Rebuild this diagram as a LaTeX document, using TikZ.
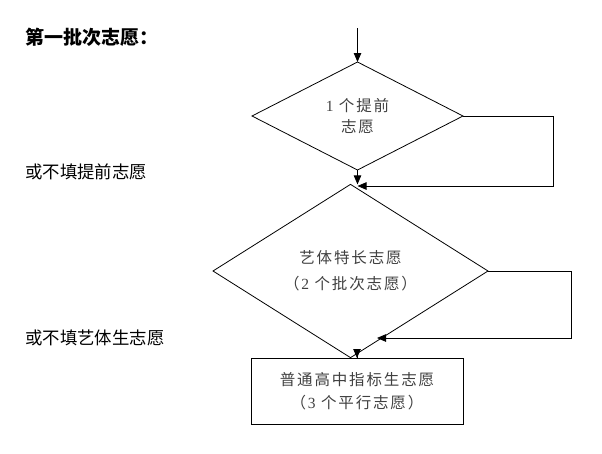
\documentclass[tikz,border=0pt]{standalone}
\usepackage{fontspec}
\setmainfont{Liberation Serif}
\newfontfamily\cjk{Noto Sans CJK SC}
\newfontfamily\cjkd[LetterSpace=12]{Noto Sans CJK SC}
\usetikzlibrary{shapes.geometric,arrows.meta}
\begin{document}
\begin{tikzpicture}[x=1pt,y=-1pt,
  line/.style={line width=0.8pt,draw=black},
  arr/.style={line, -{Triangle[length=9pt,width=7.5pt]}},
  dia/.style={diamond,line,inner sep=0pt,outer sep=0pt,align=center,text=black!75},
  boxnode/.style={rectangle,line,inner sep=0pt,outer sep=0pt,align=center,text=black!75},
  side/.style={anchor=west,inner sep=0pt,font=\cjk\fontsize{17.4}{20}\selectfont}
]
\useasboundingbox (0,0) rectangle (602,453);

\node[side,font=\cjk\bfseries\fontsize{19}{22}\selectfont] (title) at (25,37) {第一批次志愿：};
\node[side] (note1) at (25,172) {或不填提前志愿};
\node[side] (note2) at (25,338) {或不填艺体生志愿};

\node[dia,minimum width=211pt,minimum height=108pt,font=\cjkd\fontsize{15.5}{21}\selectfont] (d1) at (357.5,116) {\textrm{1} 个提前\\志愿};
\node[dia,minimum width=275pt,minimum height=122pt,font=\cjkd\fontsize{15.5}{26}\selectfont] (d2) at (350.5,271) {艺体特长志愿\\（\textrm{2} 个批次志愿）};
\node[boxnode,minimum width=212pt,minimum height=66pt,font=\cjkd\fontsize{15.5}{23}\selectfont] (b) at (357,391) {普通高中指标生志愿\\（\textrm{3} 个平行志愿）};

\coordinate (start) at (357.5,28);
\coordinate (r1) at (553,186);
\coordinate (j1) at (357.5,186);
\coordinate (r2) at (571,338);
\coordinate (j2) at (377,338);

\draw[arr] (start) -- (d1.north);
\draw[arr] (d1.east) -| (r1) -- (j1);
\draw[arr] (d1.south) -- (d1.south |- d2.north);
\draw[arr] (d2.east) -| (r2) -- (j2);
\draw[arr] (b.north |- d2.south) -- (b.north);
\end{tikzpicture}
\end{document}
